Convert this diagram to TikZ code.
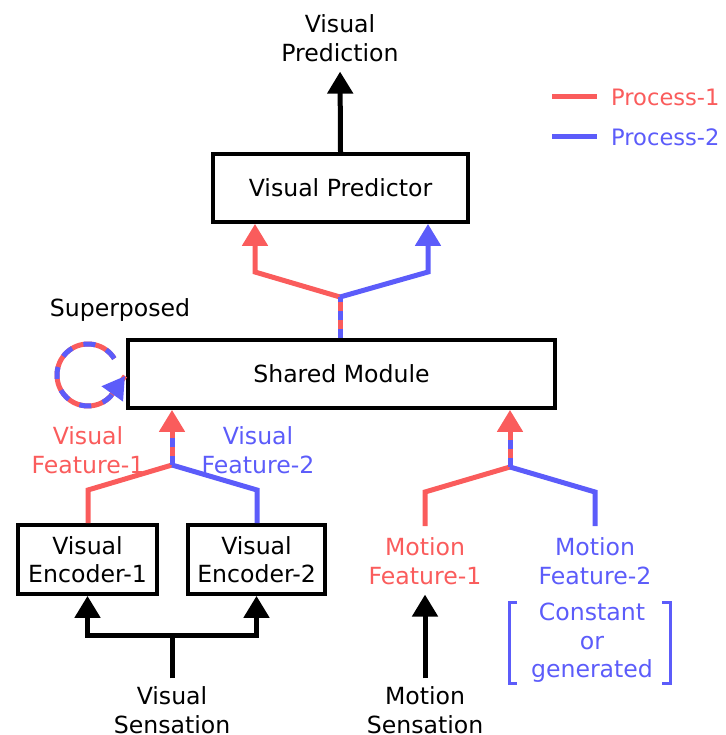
\documentclass[tikz,border=0pt]{standalone}
\usepackage{fontspec}
\setmainfont{DejaVu Sans}
\usetikzlibrary{arrows.meta,calc}
\definecolor{pred}{RGB}{250,92,92}
\definecolor{pblue}{RGB}{92,92,250}
\begin{document}
\begin{tikzpicture}[x=1pt,y=-1pt,
  every node/.style={font=\fontsize{23.6}{28.5}\selectfont, align=center, inner sep=0pt},
  box/.style={draw=black, line width=3.8pt, minimum height=68pt},
  conn/.style={line width=5pt},
  tip/.style={-{Triangle[width=25pt,length=22pt]}},
  dashover/.style={pblue, line width=5pt, dash pattern=on 9pt off 9pt},
]
\useasboundingbox (0,0) rectangle (725,735);

% nodes
\node (vpred) at (340,38) {Visual\\Prediction};
\node[box, minimum width=255pt] (vp) at (340.5,188) {Visual Predictor};
\node[box, minimum width=427pt] (sm) at (341.5,374) {Shared Module};
\node (sup) at (120,310) {Superposed};
\node[text=pred] (vf1) at (88,450) {Visual\\Feature-1};
\node[text=pblue] (vf2) at (258,450) {Visual\\Feature-2};
\node[box, minimum width=139pt, minimum height=69pt] (ve1) at (87.5,559.5) {Visual\\Encoder-1};
\node[box, minimum width=137pt, minimum height=69pt] (ve2) at (256.5,559.5) {Visual\\Encoder-2};
\node[text=pred] (mf1) at (425,561) {Motion\\Feature-1};
\node[text=pblue] (mf2) at (595,561) {Motion\\Feature-2};
\node[text=pblue] (cg) at (592,643) {Constant\\or\\generated};
\node (vs) at (172,710) {Visual\\Sensation};
\node (ms) at (425,710) {Motion\\Sensation};

% legend
\node[text=pred, anchor=west, font=\fontsize{22.6}{27}\selectfont] (l1) at (611,97) {Process-1};
\node[text=pblue, anchor=west, font=\fontsize{22.6}{27}\selectfont] (l2) at (611,137) {Process-2};
\coordinate (l1a) at (552,97);
\coordinate (l2a) at (552,137);
\draw[conn, pred] (l1a) -- (l1.west) [shorten >=14pt];
\draw[conn, pblue] (l2a) -- (l2.west) [shorten >=14pt];

% top output
\draw[conn, tip] (vp.north) -- (vpred.south) [shorten >=10pt];

% tree into visual predictor
\coordinate (j1) at (340,297);
\coordinate (r1) at (255,272);
\coordinate (b1) at (428,272);
\draw[conn, pred, tip] (j1) -- (r1) -- (r1 |- vp.south);
\draw[conn, pblue, tip] (j1) -- (b1) -- (b1 |- vp.south);
\draw[conn, pred] (sm.north -| j1) -- (j1);
\draw[dashover] (sm.north -| j1) -- (j1);

% left tree into shared module
\coordinate (j2) at (172,465);
\coordinate (r2) at (88,490);
\coordinate (b2) at (257,490);
\coordinate (s2) at (172,432);
\draw[conn, pred] (ve1.north -| r2) -- (r2) -- (j2);
\draw[conn, pblue] (ve2.north -| b2) -- (b2) -- (j2);
\draw[conn, pred, tip] (j2) -- (j2 |- sm.south);
\draw[dashover] (j2) -- (s2);

% right tree into shared module
\coordinate (j3) at (510,467);
\coordinate (r3) at (425,492);
\coordinate (b3) at (595,492);
\coordinate (m1) at (425,526);
\coordinate (m2) at (595,526);
\coordinate (s3) at (510,432);
\draw[conn, pred] (m1) -- (r3) -- (j3);
\draw[conn, pblue] (m2) -- (b3) -- (j3);
\draw[conn, pred, tip] (j3) -- (j3 |- sm.south);
\draw[dashover] (j3) -- (s3);

% superposed loop
\coordinate (lc) at (88,375);
\coordinate (lt) at (125,376);
\draw[conn, pred] (lc) ++(-32:31) arc[start angle=-32, end angle=-317, radius=31] -- (lt);
\draw[conn, pblue, dash pattern=on 12pt off 12pt, tip] (lc) ++(-32:31) arc[start angle=-32, end angle=-317, radius=31] -- (lt);

% bottom inputs
\coordinate (vsj) at (172,635);
\draw[conn] (vs.north) [shorten <=8pt] -- (vsj);
\draw[conn, tip] (vsj) -| (ve1.south);
\draw[conn, tip] (vsj) -| (ve2.south);
\draw[conn, tip] (ms.north) -- (mf1.south) [shorten <=8pt, shorten >=10pt];

% bracket
\draw[pblue, line width=3pt] (517,602) -- (509,602) -- (509,683) -- (517,683);
\draw[pblue, line width=3pt] (662,602) -- (670,602) -- (670,683) -- (662,683);
\end{tikzpicture}
\end{document}
